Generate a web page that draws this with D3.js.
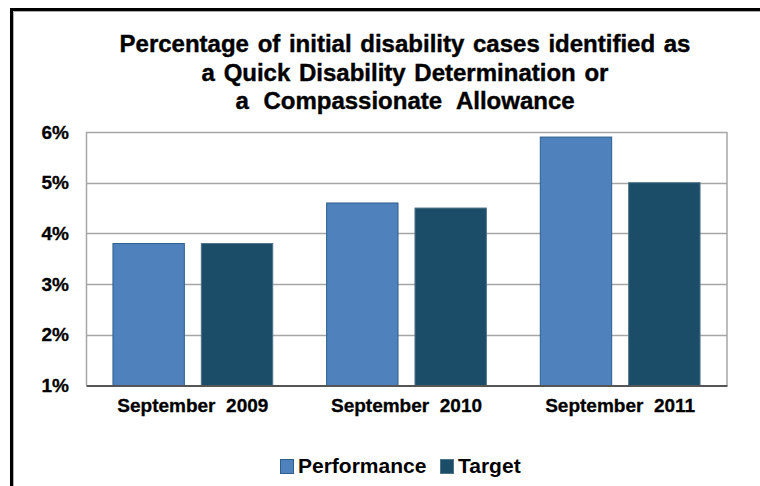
<!DOCTYPE html>
<html>
<head>
<meta charset="utf-8">
<script src="https://cdn.jsdelivr.net/npm/d3@7"></script>
<style>
  html, body { margin: 0; padding: 0; background: #fff; }
  svg { display: block; }
</style>
</head>
<body>
<div class="chart-container"></div>
<script>
// --- Data ---
const categories = ["September 2009", "September 2010", "September 2011"];
const seriesNames = ["Performance", "Target"];
const performance = [3.8, 4.6, 5.9];
const target = [3.8, 4.5, 5.0];
const yTicks = [1, 2, 3, 4, 5, 6];
const titleLines = [
    "Percentage of initial disability cases identified as",
    "a Quick Disability Determination or",
    "a Compassionate Allowance"
];

const createDisabilityChart = () => {
    const viewW = 760;
    const viewH = 486;
    const margin = { top: 132, right: 33, bottom: 100.5, left: 86 };
    const width = viewW - margin.left - margin.right;
    const height = viewH - margin.top - margin.bottom;
    const colors = { Performance: "#4f81bd", Target: "#1b4d69" };
    const strokes = { Performance: "#2e5f8c", Target: "#4d7388" };
    const font = "'Liberation Sans', Arial, sans-serif";

    const svg = d3.select(".chart-container")
        .append("svg")
        .attr("width", viewW)
        .attr("height", viewH)
        .attr("viewBox", `0 0 ${viewW} ${viewH}`);

    // outer frame (black edge plus grey shadow line)
    svg.append("path")
        .attr("d", `M11.5,${viewH} V9.5 H${viewW}`)
        .attr("fill", "none")
        .attr("stroke", "#000")
        .attr("stroke-width", 3);
    svg.append("path")
        .attr("d", `M13.5,${viewH} V11.5 H${viewW}`)
        .attr("fill", "none")
        .attr("stroke", "#b0b0b0")
        .attr("stroke-width", 1);

    // title
    svg.append("text")
        .attr("x", 405)
        .attr("text-anchor", "middle")
        .style("font-family", font)
        .style("font-weight", "bold")
        .style("font-size", "24px")
        .style("fill", "#000")
        .style("stroke", "#000")
        .style("stroke-width", "0.4px")
        .selectAll("tspan")
        .data(titleLines)
        .enter()
        .append("tspan")
        .attr("x", 405)
        .attr("y", (d, i) => 52 + i * 28.5)
        .style("word-spacing", (d, i) => i === 2 ? "8px" : "2px")
        .text(d => d);

    // scales
    const x0 = d3.scaleBand()
        .domain(categories)
        .range([margin.left, margin.left + width])
        .padding(0);

    const x1 = d3.scaleBand()
        .domain(seriesNames)
        .range([0, x0.bandwidth()])
        .paddingInner(0.192)
        .paddingOuter(0.305);

    const y = d3.scaleLinear()
        .domain([1, 6])
        .range([margin.top + height, margin.top]);

    const plot = svg.append("g");

    // gridlines
    plot.append("g")
        .selectAll("line")
        .data(yTicks.slice(1))
        .enter()
        .append("line")
        .attr("x1", margin.left)
        .attr("x2", margin.left + width)
        .attr("y1", d => Math.round(y(d)) + 0.5)
        .attr("y2", d => Math.round(y(d)) + 0.5)
        .attr("stroke", "#a6a6a6")
        .attr("stroke-width", 1.5);

    // plot border left / right
    plot.append("line")
        .attr("x1", margin.left + 0.5).attr("x2", margin.left + 0.5)
        .attr("y1", margin.top).attr("y2", margin.top + height)
        .attr("stroke", "#a6a6a6").attr("stroke-width", 1.5);
    plot.append("line")
        .attr("x1", margin.left + width).attr("x2", margin.left + width)
        .attr("y1", margin.top).attr("y2", margin.top + height)
        .attr("stroke", "#a6a6a6").attr("stroke-width", 1.5);

    // bars
    const rows = categories.map((c, i) => ({
        cat: c,
        values: [
            { key: "Performance", value: performance[i] },
            { key: "Target", value: target[i] }
        ]
    }));

    plot.append("g")
        .selectAll("g")
        .data(rows)
        .enter()
        .append("g")
        .attr("transform", d => `translate(${x0(d.cat)},0)`)
        .selectAll("rect")
        .data(d => d.values)
        .enter()
        .append("rect")
        .attr("x", d => x1(d.key))
        .attr("y", d => y(d.value))
        .attr("width", x1.bandwidth())
        .attr("height", d => y(1) - y(d.value))
        .attr("fill", d => colors[d.key])
        .attr("stroke", d => strokes[d.key])
        .attr("stroke-width", 1);

    // axes
    const yAxis = d3.axisLeft(y)
        .tickValues(yTicks)
        .tickFormat(d => d + "%")
        .tickSize(0)
        .tickPadding(17);

    const gy = svg.append("g")
        .attr("transform", `translate(${margin.left},0)`)
        .call(yAxis);
    gy.select(".domain").remove();
    gy.selectAll("text")
        .style("font-family", font)
        .style("font-weight", "bold")
        .style("font-size", "19px")
        .style("fill", "#000")
        .style("stroke", "#000")
        .style("stroke-width", "0.3px");

    const xAxis = d3.axisBottom(x0)
        .tickSize(0)
        .tickPadding(13);

    const gx = svg.append("g")
        .attr("transform", `translate(0,${margin.top + height})`)
        .call(xAxis);
    gx.select(".domain")
        .attr("stroke", "#555")
        .attr("stroke-width", 2);
    gx.selectAll("text")
        .style("font-family", font)
        .style("font-weight", "bold")
        .style("font-size", "19px")
        .style("fill", "#000")
        .style("stroke", "#000")
        .style("stroke-width", "0.3px")
        .style("white-space", "pre")
        .text(d => d.replace(" ", "  "));

    // legend
    const legendItems = [
        { key: "Performance", x: 280 },
        { key: "Target", x: 440 }
    ];
    const legend = svg.append("g")
        .selectAll("g")
        .data(legendItems)
        .enter()
        .append("g")
        .attr("transform", d => `translate(${d.x},459)`);

    legend.append("rect")
        .attr("x", 0.5)
        .attr("y", 0.5)
        .attr("width", 13)
        .attr("height", 14)
        .attr("fill", d => colors[d.key])
        .attr("stroke", d => strokes[d.key]);

    legend.append("text")
        .attr("x", 18)
        .attr("y", 14)
        .style("font-family", font)
        .style("font-weight", "bold")
        .style("font-size", "21px")
        .style("fill", "#000")
        .text(d => d.key);
};

createDisabilityChart();
</script>
</body>
</html>
